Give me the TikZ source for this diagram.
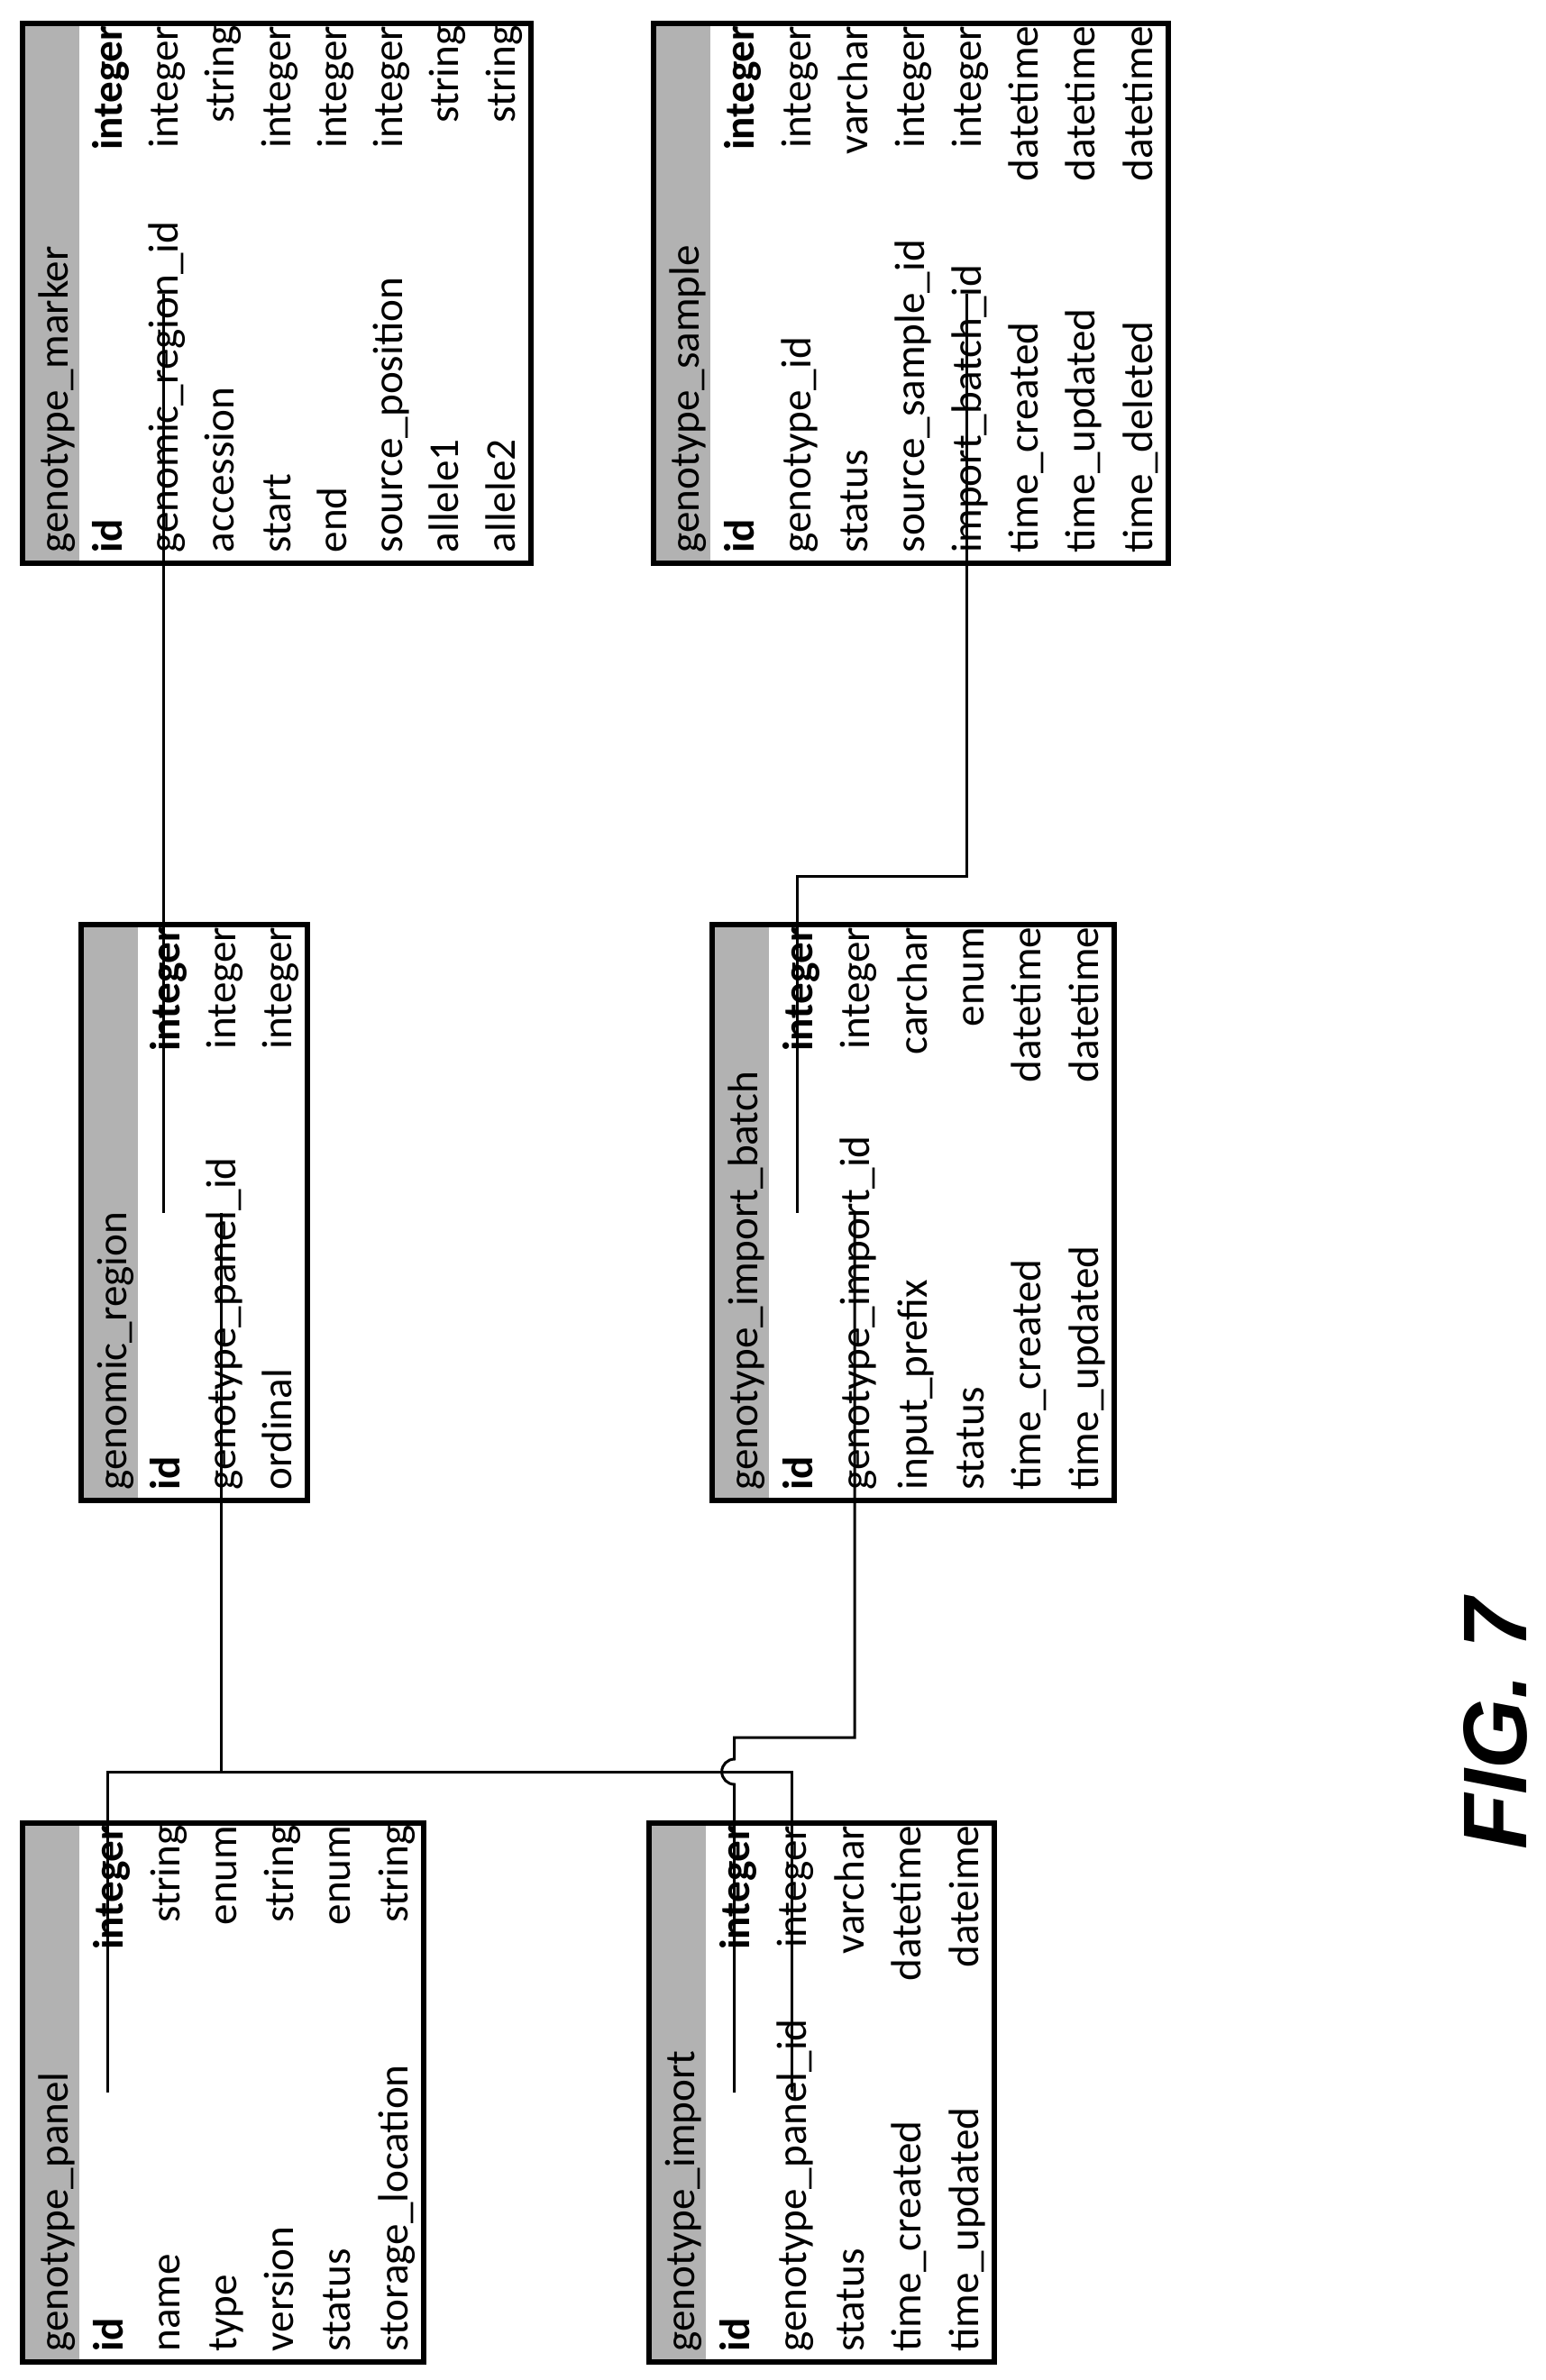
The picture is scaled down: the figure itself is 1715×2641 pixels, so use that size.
\documentclass[tikz,border=0pt]{standalone}
\usepackage{fontspec}
\setmainfont{Carlito}
\newfontfamily\figfont{Liberation Sans}
\begin{document}
\begin{tikzpicture}[x=0.01cm,y=0.01cm,
  hdr/.style={fill=black!30},
  tbl/.style={draw,line width=0.06cm,inner sep=0pt,anchor=north west},
  txt/.style={rotate=90,inner sep=0pt,font=\fontsize{13.4}{16}\selectfont},
  conn/.style={line width=0.03cm}]
\useasboundingbox (0,0) rectangle (1715,-2641);
\newcommand\mytab[8]{%
  \pgfmathsetmacro\hx{#2+66}%
  \pgfmathsetmacro\bw{(#3-#2)*0.01}%
  \pgfmathsetmacro\bh{(#5-#4)*0.01}%
  \fill[hdr] (#2,-#4) rectangle (\hx,-#5);
  \node[tbl,minimum width=\bw cm,minimum height=\bh cm] (#1) at (#2,-#4) {};
  \node[txt,anchor=base west] (#1-t) at (\hx-13,-#5+8) {#6};
  \pgfmathsetmacro\pp{(#3-\hx)/#7}%
  \foreach \a/\b/\c [count=\i] in {#8}{%
    \pgfmathsetmacro\rb{\hx+\i*\pp}%
    \pgfmathsetmacro\rc{\hx+(\i-0.5)*\pp}%
    \coordinate (#1-r\i) at (\rc,-#4);
    \node[txt,anchor=base west] (#1-n\i) at (\rb-15,-#5+8) {\ifnum\c=1 \bfseries\fi\a};
    \node[txt,anchor=base east] (#1-y\i) at (\rb-15,-#4-5) {\ifnum\c=1 \bfseries\fi\b};
  }%
}
\mytab{marker}{22}{586}{23}{622}{genotype\_marker}{8}{id/integer/1,genomic\_region\_id/integer/0,accession/string/0,start/integer/0,end/integer/0,source\_position/integer/0,allele1/string/0,allele2/string/0}
\mytab{sample}{722}{1293}{23}{622}{genotype\_sample}{8}{id/integer/1,genotype\_id/integer/0,status/varchar/0,source\_sample\_id/integer/0,import\_batch\_id/integer/0,time\_created/datetime/0,time\_updated/datetime/0,time\_deleted/datetime/0}
\mytab{region}{87}{338}{1023}{1662}{genomic\_region}{3}{id/integer/1,genotype\_panel\_id/integer/0,ordinal/integer/0}
\mytab{batch}{787}{1233}{1023}{1662}{genotype\_import\_batch}{6}{id/integer/1,genotype\_import\_id/integer/0,input\_prefix/carchar/0,status/enum/0,time\_created/datetime/0,time\_updated/datetime/0}
\mytab{panel}{22}{467}{2020}{2618}{genotype\_panel}{6}{id/integer/1,name/string/0,type/enum/0,version/string/0,status/enum/0,storage\_location/string/0}
\mytab{import}{717}{1100}{2020}{2618}{genotype\_import}{5}{id/integer/1,genotype\_panel\_id/integer/0,status/varchar/0,time\_created/datetime/0,time\_updated/dateime/0}
\coordinate (hb) at (0,-1966);
\coordinate (hc) at (0,-1928);
\coordinate (hd) at (0,-972);
\coordinate (hop) at (0,-1952);
\draw[conn] (marker.east -| marker-r2) -- (region.west -| marker-r2);
\draw[conn] (region.east -| region-r2) |- (panel-r1 |- hb) -- (panel.west -| panel-r1);
\draw[conn] (region-r2 |- hb) -| (import.west -| import-r2);
\draw[conn] (batch.east -| batch-r2) |- (import-r1 |- hc) -- (import-r1 |- hop)
  arc[start angle=90,end angle=270,radius=0.14cm] -- (import.west -| import-r1);
\draw[conn] (sample.east -| sample-r5) |- (batch-r1 |- hd) -- (batch.west -| batch-r1);
\node[rotate=90,anchor=base,inner sep=0pt,font=\figfont\bfseries\itshape\fontsize{28.5}{30}\selectfont] (fig) at (1693,-1913) {FIG. 7};
\end{tikzpicture}
\end{document}
